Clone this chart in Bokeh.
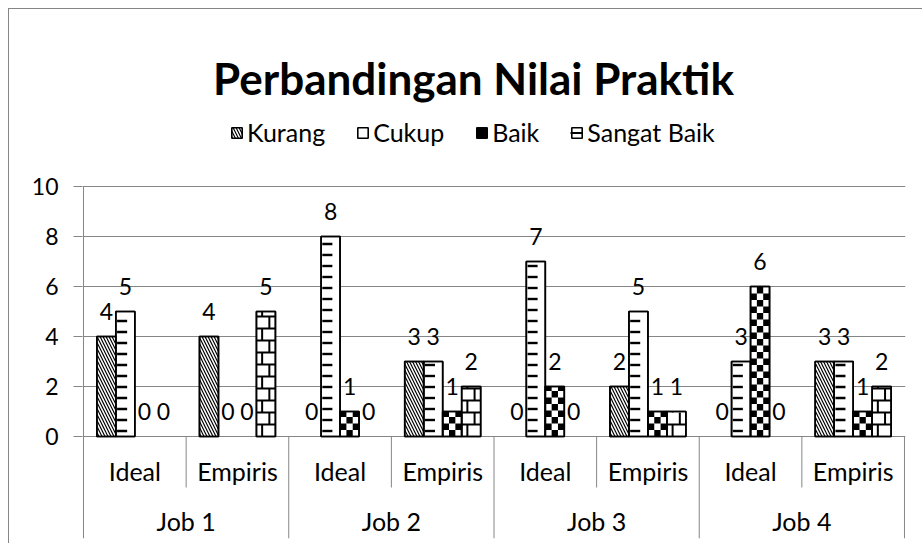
import math
from bokeh.plotting import figure
from bokeh.models import (ColumnDataSource, FactorRange, FixedTicker, Legend,
                          LegendItem, Label)
from bokeh.transform import dodge
from bokeh.core.properties import value
from bokeh.embed import file_html
from bokeh.resources import INLINE

# ---------------- data ----------------
jobs = ["Job 1", "Job 2", "Job 3", "Job 4"]
subs = ["Ideal", "Empiris"]
series_names = ["Kurang", "Cukup", "Baik", "Sangat Baik"]
kurang = [4, 4, 0, 3, 0, 2, 0, 3]
cukup = [5, 0, 8, 3, 7, 5, 3, 3]
baik = [0, 0, 1, 1, 2, 1, 6, 1]
sangat_baik = [0, 5, 0, 2, 0, 1, 0, 2]
y_ticks = [0, 2, 4, 6, 8, 10]
title_text = "Perbandingan Nilai Praktik"

series_values = [kurang, cukup, baik, sangat_baik]
factors = [(j, s) for j in jobs for s in subs]

FONT = "Lato"
GRID = "#868686"
FS_NUM = "23px"
FS_TXT = "25px"

Y_TOP = 17.08
Y_BOT = -4.08

p = figure(
    x_range=FactorRange(*factors, factor_padding=0, group_padding=0,
                        subgroup_padding=0, range_padding=0.01,
                        range_padding_units="absolute"),
    y_range=(Y_BOT, Y_TOP),
    width=914, height=535,
    min_border_left=73, min_border_right=18,
    min_border_top=0, min_border_bottom=6,
    x_axis_location=None,
    output_backend="svg", toolbar_location=None,
)
p.margin = (8, 0, 0, 8)
p.styles = {"border-top": "1px solid #868686", "border-left": "1px solid #868686"}
p.outline_line_color = None
p.background_fill_color = "white"
p.border_fill_color = "white"
p.xgrid.visible = False

p.yaxis.ticker = FixedTicker(ticks=y_ticks)
p.yaxis.axis_line_color = None
p.yaxis.major_tick_line_color = GRID
p.yaxis.major_tick_out = 9
p.yaxis.major_tick_in = 0
p.yaxis.minor_tick_line_color = None
p.yaxis.major_label_standoff = 15
p.yaxis.major_label_text_font = FONT
p.yaxis.major_label_text_font_size = FS_NUM
p.yaxis.major_label_text_color = "black"
p.ygrid.grid_line_color = GRID
p.ygrid.grid_line_width = 1

BW = 0.185
offsets = [-1.5 * BW, -0.5 * BW, 0.5 * BW, 1.5 * BW]
OFF_K, OFF_C, OFF_B, OFF_S = offsets
XR = p.x_range

# ---------------- bars (white body) ----------------
bar_renderers = []
for name, vals, off in zip(series_names, series_values, offsets):
    nz_x = [f for f, v in zip(factors, vals) if v > 0]
    nz_v = [v for v in vals if v > 0]
    src = ColumnDataSource(dict(x=nz_x, top=nz_v))
    extra = {}
    if name == "Kurang":
        extra = dict(hatch_pattern="\\", hatch_scale=6, hatch_weight=1.2,
                     hatch_color="black")
    r = p.vbar(x=dodge("x", off, range=XR), top="top", bottom=0, width=BW,
               source=src, fill_color="white", line_color="black",
               line_width=1.6, **extra)
    bar_renderers.append((r, src))

# ---------------- Cukup: short dashes ----------------
DASH_STEP = 0.44
dash_x, dash_y = [], []
for f, v in zip(factors, cukup):
    if v <= 0:
        continue
    y = DASH_STEP / 2
    while y < v - 0.1:
        dash_x.append(f)
        dash_y.append(y)
        y += DASH_STEP
dash_r = p.segment(x0=dodge("x", OFF_C - BW / 2 + 0.012, range=XR),
                   x1=dodge("x", OFF_C - BW / 2 + 0.11, range=XR),
                   y0="y", y1="y", source=ColumnDataSource(dict(x=dash_x, y=dash_y)),
                   line_color="black", line_width=2.4, line_cap="butt")

# ---------------- Baik: checkerboard ----------------
CHK_H = 0.26
chk = [dict(x=[], b=[], t=[]) for _ in range(3)]
for f, v in zip(factors, baik):
    if v <= 0:
        continue
    n = math.ceil(v / CHK_H - 1e-9)
    for r in range(n):
        b = r * CHK_H
        t = min(v, b + CHK_H)
        for c in range(3):
            if (r + c) % 2 == 1:
                chk[c]["x"].append(f)
                chk[c]["b"].append(b)
                chk[c]["t"].append(t)
chk_renderers = []
for c in range(3):
    rr = p.quad(left=dodge("x", OFF_B - BW / 2 + c * BW / 3, range=XR),
                right=dodge("x", OFF_B - BW / 2 + (c + 1) * BW / 3, range=XR),
                bottom="b", top="t", source=ColumnDataSource(chk[c]),
                fill_color="black", line_color=None)
    chk_renderers.append(rr)

# ---------------- Sangat Baik: brick ----------------
BRK_H = 0.48
brk_hx, brk_hy = [], []
brk_v = [dict(x=[], y0=[], y1=[]) for _ in range(2)]
for f, v in zip(factors, sangat_baik):
    if v <= 0:
        continue
    n = math.ceil(v / BRK_H - 1e-9)
    for r in range(n):
        y0 = r * BRK_H
        y1 = min(v, y0 + BRK_H)
        brk_v[r % 2]["x"].append(f)
        brk_v[r % 2]["y0"].append(y0)
        brk_v[r % 2]["y1"].append(y1)
        if y1 < v - 0.06:
            brk_hx.append(f)
            brk_hy.append(y1)
brick_h_r = p.segment(x0=dodge("x", OFF_S - BW / 2, range=XR),
                      x1=dodge("x", OFF_S + BW / 2, range=XR),
                      y0="y", y1="y", source=ColumnDataSource(dict(x=brk_hx, y=brk_hy)),
                      line_color="black", line_width=2, line_cap="butt")
for k, frac in enumerate([0.3, 0.68]):
    p.segment(x0=dodge("x", OFF_S - BW / 2 + frac * BW, range=XR),
              x1=dodge("x", OFF_S - BW / 2 + frac * BW, range=XR),
              y0="y0", y1="y1", source=ColumnDataSource(brk_v[k]),
              line_color="black", line_width=2, line_cap="butt")

# ---------------- crisp bar outlines on top ----------------
for (r, src), off in zip(bar_renderers, offsets):
    p.vbar(x=dodge("x", off, range=XR), top="top", bottom=0, width=BW,
           source=src, fill_color=None, line_color="black", line_width=1.6)

# ---------------- value labels ----------------
for vals, off in zip(series_values, offsets):
    lsrc = ColumnDataSource(dict(x=factors, y=vals, t=[str(v) for v in vals]))
    p.text(x=dodge("x", off, range=XR), y="y", text="t", source=lsrc,
           text_font=value(FONT), text_font_size=FS_NUM, text_color="black",
           text_align="center", text_baseline="middle", y_offset=-25)

# ---------------- value axis line (stops at the top tick) ----------------
left_src = ColumnDataSource(dict(x=[factors[0]]))
p.segment(x0=dodge("x", -0.5, range=XR), x1=dodge("x", -0.5, range=XR),
          y0=y_ticks[-1], y1=Y_BOT, source=left_src, line_color=GRID, line_width=1)

# ---------------- category axis (two levels) ----------------
sub_src = ColumnDataSource(dict(x=factors, t=[s for _, s in factors]))
p.text(x="x", y=-1.36, text="t", source=sub_src, text_font=value(FONT),
       text_font_size=FS_TXT, text_color="black", text_align="center",
       text_baseline="middle")
job_src = ColumnDataSource(dict(x=jobs, t=jobs))
p.text(x="x", y=-3.36, text="t", source=job_src, text_font=value(FONT),
       text_font_size=FS_TXT, text_color="black", text_align="center",
       text_baseline="middle")

sep_sub = ColumnDataSource(dict(x=[(j, "Ideal") for j in jobs]))
p.segment(x0=dodge("x", 0.5, range=XR), x1=dodge("x", 0.5, range=XR),
          y0=0, y1=-2.04, source=sep_sub, line_color=GRID, line_width=1)
sep_job = ColumnDataSource(dict(x=[(j, "Empiris") for j in jobs]))
p.segment(x0=dodge("x", 0.5, range=XR), x1=dodge("x", 0.5, range=XR),
          y0=0, y1=Y_BOT, source=sep_job, line_color=GRID, line_width=1)

# ---------------- title ----------------
p.add_layout(Label(x=3.8, y=14.36, text=title_text, text_font=FONT,
                   text_font_size="44px", text_font_style="bold",
                   text_color="black", text_align="center",
                   text_baseline="alphabetic"))

# ---------------- legend ----------------
legend = Legend(
    items=[
        LegendItem(label=series_names[0], renderers=[bar_renderers[0][0]]),
        LegendItem(label=series_names[1], renderers=[bar_renderers[1][0]]),
        LegendItem(label=series_names[2], renderers=[bar_renderers[2][0], chk_renderers[0]]),
        LegendItem(label=series_names[3], renderers=[bar_renderers[3][0], brick_h_r]),
    ],
    orientation="horizontal", location=(148, 391),
    glyph_width=13, glyph_height=13, label_standoff=4, spacing=31,
    padding=0, margin=0, border_line_color=None, background_fill_alpha=0,
    label_text_font=FONT, label_text_font_size=FS_TXT, label_text_color="black",
)
p.add_layout(legend)

open("out.html", "w").write(file_html(p, INLINE))
